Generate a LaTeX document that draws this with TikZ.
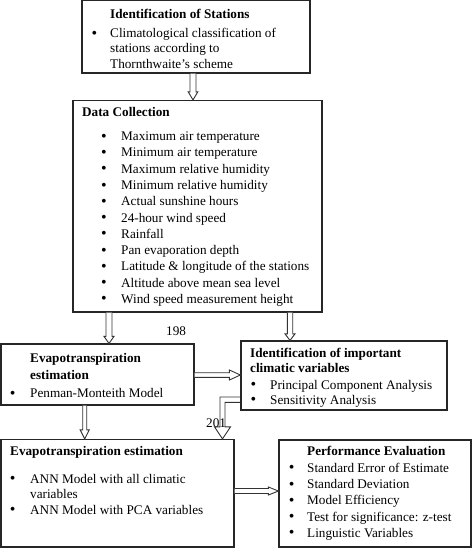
\documentclass[tikz,border=0pt]{standalone}
\usepackage{fontspec}
\setmainfont{Liberation Serif}
\usetikzlibrary{calc}
\tikzset{
  box/.style={draw=black!85, line width=1.2pt, rectangle, inner sep=0pt},
  conn/.style={draw=black!80, line width=0.9pt, line join=miter, fill=white},
  txt/.style={anchor=base west, inner sep=0pt, font=\fontsize{13.2}{16}\selectfont},
  ttl/.style={anchor=base west, inner sep=0pt, font=\fontsize{13.2}{16}\selectfont\bfseries},
  bul/.style={anchor=base, inner sep=0pt, yshift=-0.6pt, font=\fontsize{16}{16}\selectfont},
  lbl/.style={anchor=base west, inner sep=0pt, font=\fontsize{13.2}{16}\selectfont}
}
% vertical block arrow: start coordinate, target node, shaft half, head half, head length
\newcommand\blockdown[5]{%
  \path[conn] let \p1=(#1), \p2=(#1 |- #2.north) in
  (\x1-#3,\y1) -- (\x1-#3,\y2+#5) -- (\x1-#4,\y2+#5) -- (\x2,\y2) -- (\x1+#4,\y2+#5) -- (\x1+#3,\y2+#5) -- (\x1+#3,\y1);}
% horizontal block arrow to the right
\newcommand\blockright[5]{%
  \path[conn] let \p1=(#1), \p2=(#1 -| #2.west) in
  (\x1,\y1+#3) -- (\x2-#5,\y1+#3) -- (\x2-#5,\y1+#4) -- (\x2,\y2) -- (\x2-#5,\y1-#4) -- (\x2-#5,\y1-#3) -- (\x1,\y1-#3);}
\begin{document}
\begin{tikzpicture}[x=1pt,y=-1pt]
\useasboundingbox (0,0) rectangle (474,548);
% boxes
\node[box, minimum width=228pt, minimum height=72.3pt] (b1) at (196,36.9) {};
\node[box, minimum width=249pt, minimum height=211.5pt] (b2) at (197.5,206.25) {};
\node[box, minimum width=193pt, minimum height=61pt] (b3) at (97.5,374.5) {};
\node[box, minimum width=206pt, minimum height=69pt] (b4) at (344,375.5) {};
\node[box, minimum width=233pt, minimum height=107.5pt] (b5) at (117.5,493.25) {};
\node[box, minimum width=192pt, minimum height=107pt] (b6) at (375,493.5) {};
% box 1 text
\node[ttl] (t1) at (110,18.5) {Identification of Stations};
\node[bul] (t1b) at (94.3,37.5) {\textbullet};
\node[txt] (t1a) at (110,37.5) {Climatological classification of};
\node[txt] (t1c) at (110,53) {stations according to};
\node[txt] (t1d) at (110,68.5) {Thornthwaite’s scheme};
% box 2 text
\node[ttl] (t2) at (82,117) {Data Collection};
\foreach \txt [count=\i from 0] in {Maximum air temperature, Minimum air temperature, Maximum relative humidity, Minimum relative humidity, Actual sunshine hours, 24-hour wind speed, Rainfall, Pan evaporation depth, Latitude \& longitude of the stations, Altitude above mean sea level, Wind speed measurement height}{
  \node[bul] (t2b\i) at (104,140.7+16.26*\i) {\textbullet};
  \node[txt] (t2i\i) at (121,140.7+16.26*\i) {\txt};
}
% box 3 text
\node[ttl] (t3) at (30,362) {Evapotranspiration};
\node[ttl] (t3a) at (30,379) {estimation};
\node[bul] (t3b) at (12.7,397.7) {\textbullet};
\node[txt] (t3c) at (30,397.7) {Penman-Monteith Model};
% box 4 text
\node[ttl] (t4) at (250,357.3) {Identification of important};
\node[ttl] (t4a) at (250,372.7) {climatic variables};
\node[bul] (t4b1) at (253.3,389.3) {\textbullet};
\node[txt] (t4c1) at (270,389.3) {Principal Component Analysis};
\node[bul] (t4b2) at (253.3,404.3) {\textbullet};
\node[txt] (t4c2) at (270,404.3) {Sensitivity Analysis};
% box 5 text
\node[ttl] (t5) at (10,455.7) {Evapotranspiration estimation};
\node[bul] (t5b1) at (12.7,483.3) {\textbullet};
\node[txt] (t5c1) at (30,483.3) {ANN Model with all climatic};
\node[txt] (t5c2) at (30,498.3) {variables};
\node[bul] (t5b2) at (12.7,514) {\textbullet};
\node[txt] (t5c3) at (30,514) {ANN Model with PCA variables};
% box 6 text
\node[ttl] (t6) at (307,455.7) {Performance Evaluation};
\foreach \txt [count=\i from 0] in {Standard Error of Estimate, Standard Deviation, Model Efficiency, Test for significance: z-test, Linguistic Variables}{
  \node[bul] (t6b\i) at (291.7,472.3+16.25*\i) {\textbullet};
  \node[txt] (t6i\i) at (307,472.3+16.25*\i) {\txt};
}
% labels
\node[lbl] (l198) at (166,335) {198};
\node[lbl] (l201) at (206,427) {201};
% connectors
\coordinate (s1) at (b1.south -| 193,0);
\coordinate (s2) at (b2.south -| 109,0);
\coordinate (s3) at (b2.south -| 290,0);
\coordinate (s4) at (b3.east |- 0,375);
\coordinate (s6) at (b3.south -| 84.7,0);
\coordinate (s7) at (b5.east |- 0,491);
\coordinate (s5) at (b4.west |- 0,399.7);
\coordinate (c5) at (222.5,399.7);
\blockdown{s1}{b2}{3pt}{4.8pt}{8pt}
\blockdown{s2}{b3}{3pt}{5pt}{7pt}
\blockdown{s3}{b4}{2.7pt}{5pt}{6.5pt}
\blockdown{s6}{b5}{2pt}{4.5pt}{9pt}
\blockright{s4}{b4}{2.3pt}{5pt}{11pt}
\blockright{s7}{b6}{2.5pt}{4pt}{10pt}
% elbow arrow from box 4 to box 5
\path[conn, fill=none] let \p1=(s5), \p2=(c5 |- b5.north) in
  (\x1,\y1+2.7pt) -- (\x2-2.5pt,\y1+2.7pt) -- (\x2-2.5pt,\y2+12pt) -- (\x2-8pt,\y2+12pt) -- (\x2,\y2)
  -- (\x2+8pt,\y2+12pt) -- (\x2+2.5pt,\y2+12pt) -- (\x2+2.5pt,\y1-2.7pt) -- (\x1,\y1-2.7pt);
\end{tikzpicture}
\end{document}
